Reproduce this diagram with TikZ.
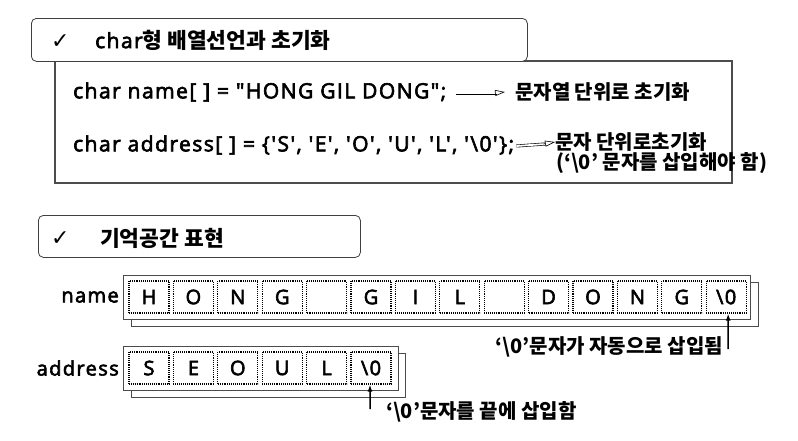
\documentclass[tikz,border=0pt]{standalone}
\usepackage{fontspec}
\setmainfont{Open Sans}[Ligatures=TeXOff, FakeBold=3, LetterSpace=7]
\newfontfamily\kr{Noto Sans CJK KR}[Ligatures=TeXOff]
\newfontfamily\symfont{DejaVu Sans}
\usetikzlibrary{arrows.meta}
\newcommand\krb{\kr\bfseries}
\newcommand\fs[1]{\fontsize{#1}{#1}\selectfont}
\tikzset{
  titlebox/.style={draw=black!75, line width=0.8pt, rounded corners=5pt, fill=white, anchor=north west, inner sep=0pt},
  framebox/.style={draw=black!70, line width=1.6pt},
  arrbox/.style={draw=black!70, line width=0.8pt, fill=white},
  cellbox/.style={draw=black, line width=1.2pt, dash pattern=on 1pt off 0.9pt, minimum width=40pt, minimum height=32pt, inner sep=0pt, font=\fs{20}},
  txt/.style={inner sep=0pt, anchor=west},
  dline/.style={double=white, double distance=1.8pt, line width=0.6pt},
  otip/.style={line width=0.6pt, -{Triangle[open, length=10pt, width=6pt]}},
  ptr/.style={line width=1.5pt, -{Latex[length=7pt, width=5pt]}}
}
\begin{document}
\begin{tikzpicture}[x=1pt, y=-1pt, font=\fs{21}]
\useasboundingbox[fill=white] (0,0) rectangle (798,440);
% first panel
\draw[framebox] (55,61) rectangle (732,183);
\node[titlebox, minimum width=496pt, minimum height=43pt] (t1) at (31,18) {};
\node[txt] (c1) at (51,42) {\symfont\fs{22}✓};
\node[txt] (t1txt) at (95,40) {char{\krb\fs{21.5}형 배열선언과 초기화}};
\node[txt] (code1) at (73,92) {char name[ ] = "HONG GIL DONG";};
\node[txt] (ann1) at (515,92) {\krb\fs{20}문자열 단위로 초기화};
\coordinate (a1e) at (497,93);
\draw[dline] ([xshift=10pt,yshift=-1pt]code1.east) -- (a1e);
\draw[otip] ([xshift=-2pt]a1e) -- ([xshift=-10pt]ann1.west);
\node[txt] (code2) at (73,145) {char address[ ] = \{'S', 'E', 'O', 'U', 'L', '\textbackslash 0'\};};
\node[txt] (ann2) at (555,142) {\krb\fs{20}문자 단위로초기화};
\node[txt] (ann2b) at (556,163) {\krb\fs{20}(‘\textbackslash 0’ 문자를 삽입해야 함)};
\coordinate (a2e) at (545,144);
\draw[dline] ([xshift=2pt,yshift=-1pt]code2.east) -- (a2e);
\draw[otip] ([xshift=-2pt]a2e) -- (ann2.west);
% second panel
\node[titlebox, minimum width=322pt, minimum height=42pt] (t2) at (38,215) {};
\node[txt] (c2) at (51,239) {\symfont\fs{22}✓};
\node[txt] (t2txt) at (100,238) {\krb\fs{21.5}기억공간 표현};
% name array
\draw[arrbox] (131,282) rectangle (758,326);
\draw[arrbox] (123,275) rectangle (750,319);
\node[inner sep=0pt, anchor=east] (lname) at (119,297) {\fs{20}name};
\foreach \c [count=\i] in {H,O,N,G,{},G,I,L,{},D,O,N,G,{\textbackslash 0}}
  \node[cellbox] (n\i) at ({149+44.4*(\i-1)},297) {\c};
% address array
\draw[arrbox] (131,353) rectangle (405,397);
\draw[arrbox] (123,346) rectangle (398,390);
\node[inner sep=0pt, anchor=east] (laddr) at (119,368) {\fs{20}address};
\foreach \c [count=\i] in {S,E,O,U,L,{\textbackslash 0}}
  \node[cellbox] (a\i) at ({149+44.4*(\i-1)},368) {\c};
% pointers
\node[inner sep=0pt, anchor=east] (p1) at (723,347) {\krb\fs{20}‘\textbackslash 0’문자가 자동으로 삽입됨};
\coordinate (p1tail) at (728,349);
\draw[ptr] (p1tail) -- ([xshift=2pt]n14.south);
\node[txt] (p2) at (386,412) {\krb\fs{20}‘\textbackslash 0’문자를 끝에 삽입함};
\coordinate (p2tail) at (370,409);
\draw[ptr] (p2tail) -- ([xshift=-1pt]a6.south);
\end{tikzpicture}
\end{document}
